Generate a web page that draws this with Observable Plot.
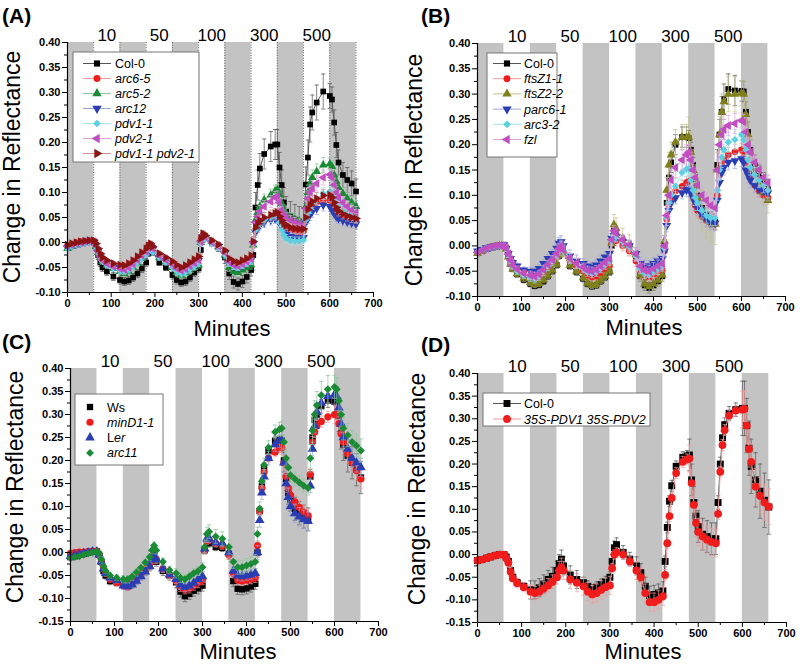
<!DOCTYPE html>
<html><head><meta charset="utf-8">
<script src="https://cdn.jsdelivr.net/npm/d3@7"></script>
<script src="https://cdn.jsdelivr.net/npm/@observablehq/plot@0.6"></script>
<style>
body{margin:0;background:#fff;}
#fig{position:relative;width:800px;height:666px;overflow:hidden;font-family:Arial,"Liberation Sans",sans-serif;}
#fig > svg{position:absolute;}
</style></head><body><div id="fig"></div>
<script>
// ---------- shared axes / design data ----------
const minutes = [0,10,20,30,40,50,60, 65,70,75,80,90,105, 120,130,140,150,160,170,180, 185,190,195,210,225,
  240,250,260,270,280,290,300, 305,310,315,330,345, 360,370,380,390,400,410,420, 425,430,435,440,450,465,475,
  480,485,490,495,500,510,520,530,540, 545,550,555,560,570,585, 600,605,610,615,620,630,640,650,660];
const segStart = [0,65,120,185,240,305,360,425,480,545,600];
const darkStart = [0,120,240,360,480,600];
const darkEnd = [60,180,300,420,540,660];
const bandEdges = [60,120,180,240,300,360,420,480,540,600,660];
const doseLabels = ["10","50","100","300","500"];
const doseMinutes = [90,210,330,450,570];
const xTicks = [0,100,200,300,400,500,600,700];
const xMinor = [50,150,250,350,450,550,650];
const yTicksAB = [-0.10,-0.05,0,0.05,0.10,0.15,0.20,0.25,0.30,0.35,0.40];
const yTicksCD = [-0.15,-0.10,-0.05,0,0.05,0.10,0.15,0.20,0.25,0.30,0.35,0.40];
const yMinorAB = [-0.075,-0.025,0.025,0.075,0.125,0.175,0.225,0.275,0.325,0.375];
const yMinorCD = [-0.125,-0.075,-0.025,0.025,0.075,0.125,0.175,0.225,0.275,0.325,0.375];

// ---------- Panel A ----------
const namesA = ["Col-0","arc6-5","arc5-2","arc12","pdv1-1","pdv2-1","pdv1-1 pdv2-1"];
const aCol0 = [-0.008,-0.006,-0.003,-0.001,0.001,0.003,0.002, -0.008,-0.025,-0.04,-0.05,-0.058,-0.068,
  -0.075,-0.078,-0.076,-0.07,-0.062,-0.052,-0.04, -0.022,-0.012,-0.02,-0.04,-0.05,
  -0.065,-0.075,-0.08,-0.078,-0.07,-0.06,-0.052, -0.015,0.008,0.01,0.0,-0.01,
  -0.03,-0.062,-0.079,-0.083,-0.078,-0.069,-0.055, -0.025,0.07,0.115,0.148,0.177,0.192,0.196,
  0.196,0.15,0.115,0.08,0.062,0.052,0.046,0.042,0.04, 0.116,0.17,0.236,0.26,0.28,0.302,
  0.293,0.286,0.24,0.195,0.16,0.135,0.125,0.118,0.102];
const aArc65 = [-0.006,-0.003,0.0,0.002,0.003,0.004,0.003, -0.004,-0.015,-0.025,-0.032,-0.038,-0.045,
  -0.048,-0.05,-0.046,-0.04,-0.032,-0.024,-0.016, -0.008,-0.004,-0.01,-0.025,-0.032,
  -0.04,-0.048,-0.052,-0.048,-0.042,-0.036,-0.03, 0.005,0.015,0.012,0.002,-0.006,
  -0.018,-0.035,-0.042,-0.044,-0.04,-0.036,-0.03, 0.0,0.025,0.032,0.038,0.045,0.05,0.055,
  0.057,0.05,0.042,0.035,0.03,0.026,0.024,0.022,0.022, 0.045,0.06,0.068,0.074,0.08,0.085,
  0.084,0.08,0.07,0.062,0.055,0.05,0.046,0.044,0.042];
const aArc52 = [-0.012,-0.008,-0.005,-0.002,0.0,0.002,0.001, -0.008,-0.02,-0.03,-0.038,-0.045,-0.052,
  -0.058,-0.062,-0.058,-0.05,-0.042,-0.032,-0.022, -0.012,-0.008,-0.015,-0.03,-0.038,
  -0.05,-0.06,-0.066,-0.062,-0.056,-0.05,-0.045, 0.0,0.015,0.012,0.002,-0.008,
  -0.025,-0.05,-0.058,-0.06,-0.055,-0.05,-0.045, -0.005,0.045,0.06,0.072,0.085,0.095,0.103,
  0.106,0.095,0.078,0.065,0.058,0.05,0.046,0.043,0.04, 0.072,0.1,0.118,0.13,0.142,0.155,
  0.157,0.152,0.135,0.122,0.11,0.098,0.088,0.08,0.072];
const aArc12 = [-0.01,-0.006,-0.003,-0.001,0.001,0.002,0.002, -0.006,-0.018,-0.028,-0.035,-0.042,-0.05,
  -0.054,-0.056,-0.052,-0.045,-0.037,-0.028,-0.02, -0.012,-0.008,-0.014,-0.028,-0.036,
  -0.045,-0.054,-0.058,-0.055,-0.048,-0.042,-0.036, 0.0,0.012,0.01,0.0,-0.008,
  -0.022,-0.04,-0.048,-0.05,-0.045,-0.04,-0.035, -0.002,0.02,0.03,0.035,0.04,0.045,0.048,
  0.05,0.042,0.032,0.022,0.016,0.012,0.01,0.01,0.01, 0.04,0.05,0.056,0.062,0.068,0.075,
  0.072,0.065,0.058,0.052,0.048,0.044,0.041,0.039,0.037];
const aPdv1 = [-0.012,-0.008,-0.005,-0.003,-0.001,0.0,0.0, -0.008,-0.02,-0.03,-0.038,-0.045,-0.052,
  -0.056,-0.058,-0.055,-0.048,-0.04,-0.032,-0.024, -0.016,-0.012,-0.02,-0.03,-0.04,
  -0.05,-0.058,-0.063,-0.06,-0.054,-0.048,-0.042, -0.002,0.01,0.008,-0.002,-0.01,
  -0.025,-0.042,-0.048,-0.05,-0.046,-0.042,-0.038, -0.005,0.025,0.033,0.04,0.045,0.05,0.055,
  0.056,0.04,0.025,0.015,0.008,0.004,0.003,0.003,0.005, 0.045,0.06,0.07,0.078,0.088,0.098,
  0.102,0.098,0.088,0.08,0.072,0.064,0.058,0.054,0.05];
const aPdv2 = [-0.008,-0.005,-0.002,0.0,0.002,0.003,0.002, -0.006,-0.018,-0.028,-0.035,-0.042,-0.048,
  -0.052,-0.054,-0.05,-0.043,-0.035,-0.026,-0.018, -0.01,-0.006,-0.012,-0.026,-0.035,
  -0.044,-0.052,-0.056,-0.053,-0.047,-0.041,-0.035, 0.002,0.014,0.011,0.001,-0.007,
  -0.02,-0.038,-0.045,-0.047,-0.043,-0.038,-0.033, 0.0,0.04,0.052,0.062,0.072,0.082,0.09,
  0.093,0.08,0.065,0.055,0.05,0.044,0.04,0.037,0.035, 0.068,0.088,0.1,0.108,0.118,0.13,
  0.136,0.13,0.115,0.1,0.09,0.08,0.072,0.065,0.06];
const aPdv12 = [-0.005,-0.002,0.0,0.002,0.003,0.004,0.004, -0.002,-0.012,-0.022,-0.03,-0.036,-0.042,
  -0.045,-0.046,-0.042,-0.036,-0.028,-0.02,-0.012, -0.006,-0.002,-0.008,-0.022,-0.03,
  -0.038,-0.045,-0.05,-0.046,-0.04,-0.034,-0.028, 0.008,0.018,0.014,0.004,-0.004,
  -0.016,-0.032,-0.038,-0.04,-0.036,-0.032,-0.026, 0.002,0.03,0.038,0.044,0.05,0.055,0.058,
  0.06,0.052,0.044,0.038,0.034,0.03,0.028,0.027,0.027, 0.05,0.066,0.075,0.082,0.088,0.094,
  0.095,0.09,0.08,0.07,0.063,0.057,0.053,0.05,0.048];
const errA = [
  [0.003,0.008,0.008,0.006,0.008,0.008,0.012,0.03,0.03,0.035,0.025],
  [0.003,0.005,0.006,0.005,0.006,0.006,0.006,0.01,0.008,0.012,0.01],
  [0.003,0.005,0.006,0.005,0.006,0.006,0.008,0.012,0.01,0.015,0.012],
  [0.003,0.005,0.006,0.005,0.006,0.006,0.006,0.01,0.008,0.012,0.01],
  [0.003,0.005,0.006,0.005,0.006,0.006,0.006,0.01,0.008,0.012,0.01],
  [0.003,0.005,0.006,0.005,0.006,0.006,0.006,0.012,0.01,0.015,0.012],
  [0.003,0.005,0.006,0.005,0.006,0.006,0.006,0.01,0.008,0.012,0.01]];

// ---------- Panel B ----------
const namesB = ["Col-0","ftsZ1-1","ftsZ2-2","parc6-1","arc3-2","fzl"];
const bCol0 = [-0.014,-0.01,-0.006,-0.003,-0.001,0.0,0.0, -0.005,-0.02,-0.035,-0.045,-0.056,-0.067,
  -0.075,-0.079,-0.077,-0.07,-0.06,-0.05,-0.038, -0.02,-0.008,-0.015,-0.04,-0.052,
  -0.065,-0.075,-0.08,-0.078,-0.07,-0.062,-0.052, 0.0,0.03,0.025,0.01,0.0,
  -0.02,-0.06,-0.078,-0.083,-0.078,-0.07,-0.06, 0.0,0.085,0.135,0.165,0.2,0.215,0.215,
  0.213,0.19,0.16,0.13,0.1,0.075,0.06,0.052,0.048, 0.16,0.22,0.265,0.29,0.31,0.307,
  0.306,0.305,0.265,0.225,0.19,0.16,0.14,0.125,0.112];
const bFtsZ1 = [-0.012,-0.009,-0.005,-0.002,0.0,0.001,0.001, -0.004,-0.016,-0.028,-0.036,-0.044,-0.05,
  -0.06,-0.063,-0.06,-0.052,-0.042,-0.032,-0.022, -0.012,-0.005,-0.012,-0.03,-0.04,
  -0.05,-0.058,-0.062,-0.06,-0.054,-0.046,-0.04, 0.005,0.012,0.01,0.0,-0.01,
  -0.03,-0.055,-0.062,-0.064,-0.058,-0.052,-0.048, -0.01,0.052,0.08,0.095,0.108,0.118,0.125,
  0.127,0.11,0.095,0.08,0.07,0.058,0.05,0.045,0.043, 0.1,0.14,0.16,0.17,0.18,0.186,
  0.19,0.185,0.165,0.15,0.135,0.12,0.108,0.1,0.095];
const bFtsZ2 = [-0.015,-0.011,-0.007,-0.004,-0.002,0.0,0.0, -0.006,-0.022,-0.036,-0.046,-0.055,-0.064,
  -0.072,-0.076,-0.074,-0.067,-0.058,-0.048,-0.036, -0.018,-0.005,-0.015,-0.038,-0.05,
  -0.063,-0.073,-0.078,-0.076,-0.068,-0.06,-0.05, 0.005,0.042,0.035,0.015,0.002,
  -0.018,-0.058,-0.075,-0.08,-0.075,-0.068,-0.058, 0.01,0.11,0.16,0.18,0.205,0.215,0.215,
  0.215,0.185,0.15,0.12,0.095,0.07,0.055,0.047,0.043, 0.15,0.22,0.265,0.285,0.3,0.3,
  0.302,0.3,0.26,0.22,0.185,0.15,0.125,0.105,0.09];
const bParc6 = [-0.01,-0.007,-0.004,-0.002,0.0,0.001,0.002, -0.005,-0.015,-0.025,-0.033,-0.04,-0.048,
  -0.05,-0.05,-0.045,-0.035,-0.025,-0.015,-0.005, 0.005,0.008,0.0,-0.02,-0.03,
  -0.035,-0.04,-0.042,-0.038,-0.03,-0.022,-0.015, 0.015,0.02,0.018,0.008,0.0,
  -0.015,-0.035,-0.04,-0.04,-0.035,-0.03,-0.025, -0.01,0.04,0.07,0.085,0.095,0.105,0.11,
  0.112,0.105,0.095,0.085,0.075,0.062,0.053,0.047,0.045, 0.09,0.125,0.145,0.155,0.165,0.168,
  0.172,0.165,0.15,0.14,0.13,0.12,0.112,0.108,0.105];
const bArc32 = [-0.012,-0.009,-0.005,-0.003,-0.001,0.0,0.001, -0.005,-0.017,-0.03,-0.04,-0.05,-0.058,
  -0.062,-0.065,-0.06,-0.05,-0.04,-0.03,-0.018, -0.008,-0.002,-0.01,-0.025,-0.035,
  -0.045,-0.052,-0.055,-0.052,-0.045,-0.038,-0.03, 0.01,0.02,0.018,0.008,-0.002,
  -0.02,-0.045,-0.055,-0.058,-0.052,-0.046,-0.04, -0.005,0.055,0.085,0.1,0.118,0.145,0.152,
  0.152,0.13,0.11,0.095,0.085,0.07,0.06,0.055,0.055, 0.11,0.15,0.175,0.19,0.205,0.21,
  0.22,0.21,0.19,0.17,0.155,0.14,0.13,0.12,0.11];
const bFzl = [-0.013,-0.009,-0.005,-0.002,0.0,0.001,0.001, -0.005,-0.016,-0.028,-0.038,-0.046,-0.054,
  -0.058,-0.06,-0.056,-0.047,-0.037,-0.027,-0.015, -0.005,0.0,-0.008,-0.024,-0.034,
  -0.042,-0.048,-0.05,-0.047,-0.04,-0.033,-0.026, 0.012,0.03,0.025,0.012,0.002,
  -0.016,-0.04,-0.048,-0.05,-0.045,-0.04,-0.035, 0.0,0.06,0.1,0.13,0.155,0.17,0.18,
  0.185,0.17,0.15,0.135,0.12,0.1,0.09,0.08,0.075, 0.15,0.2,0.22,0.23,0.238,0.242,
  0.248,0.245,0.225,0.2,0.185,0.165,0.15,0.135,0.125];
const errB = [
  [0.003,0.006,0.006,0.006,0.006,0.01,0.01,0.02,0.015,0.03,0.02],
  [0.003,0.006,0.008,0.01,0.008,0.01,0.01,0.012,0.012,0.015,0.012],
  [0.003,0.006,0.006,0.006,0.006,0.02,0.012,0.025,0.04,0.035,0.025],
  [0.003,0.006,0.008,0.012,0.01,0.01,0.012,0.012,0.015,0.015,0.015],
  [0.003,0.006,0.008,0.01,0.008,0.01,0.01,0.015,0.015,0.02,0.015],
  [0.003,0.006,0.008,0.01,0.008,0.01,0.012,0.02,0.015,0.02,0.015]];

// ---------- Panel C ----------
const namesC = ["Ws","minD1-1","Ler","arc11"];
const cWs = [-0.01,-0.008,-0.005,-0.003,0.0,0.002,0.002, -0.005,-0.02,-0.04,-0.05,-0.062,-0.065,
  -0.07,-0.072,-0.068,-0.06,-0.05,-0.04,-0.03, -0.015,-0.005,-0.02,-0.04,-0.05,
  -0.065,-0.085,-0.095,-0.09,-0.083,-0.078,-0.072, 0.005,0.022,0.02,0.012,0.01,
  -0.003,-0.062,-0.079,-0.08,-0.078,-0.074,-0.068, 0.0,0.09,0.145,0.185,0.22,0.243,0.245,
  0.243,0.2,0.16,0.13,0.115,0.095,0.085,0.078,0.072, 0.165,0.25,0.288,0.3,0.318,0.33,
  0.328,0.325,0.298,0.26,0.235,0.21,0.195,0.18,0.163];
const cMinD = [-0.002,0.0,0.001,0.001,0.002,0.003,0.003, -0.005,-0.02,-0.035,-0.045,-0.058,-0.065,
  -0.072,-0.075,-0.068,-0.058,-0.048,-0.036,-0.025, -0.01,0.0,-0.015,-0.035,-0.05,
  -0.062,-0.075,-0.08,-0.078,-0.072,-0.066,-0.06, 0.005,0.025,0.028,0.02,0.015,
  -0.005,-0.045,-0.06,-0.062,-0.06,-0.058,-0.055, 0.015,0.09,0.14,0.175,0.205,0.218,0.228,
  0.228,0.195,0.165,0.14,0.125,0.11,0.098,0.088,0.08, 0.17,0.24,0.262,0.275,0.285,0.295,
  0.3,0.3,0.28,0.258,0.24,0.215,0.195,0.178,0.16];
const cLer = [-0.008,-0.006,-0.004,-0.002,0.0,0.002,0.002, -0.005,-0.02,-0.035,-0.045,-0.055,-0.06,
  -0.072,-0.074,-0.07,-0.062,-0.052,-0.042,-0.03, -0.015,-0.008,-0.015,-0.035,-0.048,
  -0.058,-0.07,-0.075,-0.072,-0.066,-0.058,-0.052, 0.008,0.03,0.03,0.022,0.02,
  0.0,-0.04,-0.05,-0.052,-0.05,-0.048,-0.045, 0.0,0.07,0.13,0.165,0.205,0.235,0.243,
  0.243,0.195,0.15,0.12,0.1,0.085,0.078,0.072,0.068, 0.145,0.225,0.275,0.305,0.325,0.34,
  0.343,0.34,0.315,0.28,0.25,0.225,0.205,0.195,0.185];
const cArc11 = [-0.012,-0.01,-0.008,-0.005,-0.002,0.0,0.002, -0.002,-0.015,-0.03,-0.04,-0.05,-0.055,
  -0.058,-0.058,-0.052,-0.043,-0.033,-0.022,-0.01, 0.005,0.015,0.005,-0.02,-0.038,
  -0.045,-0.055,-0.058,-0.052,-0.045,-0.04,-0.032, 0.012,0.04,0.045,0.035,0.03,
  0.012,-0.02,-0.032,-0.032,-0.028,-0.025,-0.02, 0.04,0.095,0.155,0.19,0.228,0.262,0.268,
  0.27,0.24,0.205,0.185,0.168,0.16,0.152,0.145,0.14, 0.205,0.265,0.3,0.32,0.342,0.355,
  0.36,0.355,0.33,0.3,0.27,0.255,0.24,0.232,0.222];
const errC = [
  [0.003,0.008,0.01,0.01,0.012,0.008,0.012,0.01,0.025,0.015,0.035],
  [0.003,0.006,0.008,0.008,0.01,0.008,0.01,0.01,0.015,0.012,0.02],
  [0.003,0.006,0.008,0.008,0.01,0.008,0.01,0.015,0.02,0.015,0.02],
  [0.003,0.006,0.008,0.008,0.01,0.015,0.015,0.015,0.015,0.03,0.025]];

// ---------- Panel D ----------
const namesD = ["Col-0","35S-PDV1 35S-PDV2"];
const dCol0 = [-0.013,-0.011,-0.008,-0.005,-0.002,0.0,0.0, -0.005,-0.015,-0.035,-0.05,-0.062,-0.07,
  -0.078,-0.078,-0.073,-0.065,-0.055,-0.048,-0.035, -0.02,-0.01,-0.025,-0.045,-0.055,
  -0.062,-0.07,-0.078,-0.072,-0.066,-0.06,-0.05, -0.015,0.015,0.022,0.005,-0.01,
  -0.025,-0.04,-0.07,-0.09,-0.088,-0.085,-0.08, -0.015,0.06,0.118,0.152,0.195,0.215,0.218,
  0.22,0.165,0.115,0.085,0.062,0.045,0.04,0.035,0.035, 0.115,0.2,0.258,0.287,0.312,0.32,
  0.323,0.323,0.285,0.235,0.195,0.165,0.14,0.12,0.105];
const dPdv = [-0.013,-0.011,-0.008,-0.005,-0.002,0.0,0.0, -0.008,-0.018,-0.038,-0.052,-0.063,-0.072,
  -0.082,-0.085,-0.082,-0.075,-0.068,-0.06,-0.05, -0.035,-0.028,-0.035,-0.055,-0.062,
  -0.07,-0.082,-0.088,-0.085,-0.078,-0.072,-0.068, -0.03,0.0,0.005,0.0,-0.015,
  -0.035,-0.05,-0.085,-0.105,-0.105,-0.1,-0.092, -0.045,0.025,0.085,0.125,0.18,0.205,0.21,
  0.212,0.158,0.11,0.07,0.05,0.04,0.033,0.028,0.025, 0.09,0.183,0.242,0.275,0.307,0.318,
  0.32,0.322,0.285,0.233,0.205,0.15,0.13,0.115,0.106];
const errD = [
  [0.002,0.008,0.02,0.02,0.012,0.015,0.02,0.012,0.035,0.015,0.06],
  [0.002,0.01,0.015,0.02,0.02,0.01,0.02,0.012,0.03,0.012,0.04]];

// ---------- symbols ----------
function tri(dir) {
  return {draw(ctx, size) {
    const s3 = Math.sqrt(3), y = -Math.sqrt(size / (s3 * 3));
    let pts = [[0, y * 2], [-s3 * y, -y], [s3 * y, -y]];
    if (dir === "down") pts = pts.map(p => [p[0], -p[1]]);
    if (dir === "left") pts = pts.map(p => [p[1], p[0]]);
    if (dir === "right") pts = pts.map(p => [-p[1], p[0]]);
    ctx.moveTo(pts[0][0], pts[0][1]); ctx.lineTo(pts[1][0], pts[1][1]); ctx.lineTo(pts[2][0], pts[2][1]); ctx.closePath();
  }};
}
const SYM = {square: d3.symbolSquare, circle: d3.symbolCircle, up: tri("up"), down: tri("down"),
  left: tri("left"), right: tri("right"), diamond: d3.symbolDiamond2};
const capSym = {draw(ctx) { ctx.moveTo(-2.2, 0); ctx.lineTo(2.2, 0); }};

const K = {fill: "#000", light: "#555"}, R = {fill: "#f01c1c", light: "#f29a9a"},
  G = {fill: "#1b8a35", light: "#8fc79c"}, B = {fill: "#2b3db3", light: "#9ba3dd"},
  C = {fill: "#5ccfe0", light: "#a6e4ee"}, M = {fill: "#c04ec0", light: "#dda0dd"},
  DR = {fill: "#8a1414", light: "#c99292"}, O = {fill: "#7f7f1d", light: "#c2c28a"};

const seriesA = [[aCol0,K,"square"],[aArc65,R,"circle"],[aArc52,G,"up"],[aArc12,B,"down"],
  [aPdv1,C,"diamond"],[aPdv2,M,"left"],[aPdv12,DR,"right"]].map((s,i)=>({name:namesA[i],values:s[0],col:s[1],sym:s[2],err:errA[i]}));
const seriesB = [[bCol0,K,"square"],[bFtsZ1,R,"circle"],[bFtsZ2,O,"up"],[bParc6,B,"down"],
  [bArc32,C,"diamond"],[bFzl,M,"left"]].map((s,i)=>({name:namesB[i],values:s[0],col:s[1],sym:s[2],err:errB[i]}));
const seriesC = [[cWs,K,"square"],[cMinD,R,"circle"],[cLer,B,"up"],[cArc11,G,"diamond"]]
  .map((s,i)=>({name:namesC[i],values:s[0],col:s[1],sym:s[2],err:errC[i]}));
const seriesD = [[dCol0,K,"square"],[dPdv,R,"circle"]]
  .map((s,i)=>({name:namesD[i],values:s[0],col:s[1],sym:s[2],err:errD[i]}));

function segIndex(t) { let k = 0; segStart.forEach((s, i) => { if (t >= s) k = i; }); return k; }
const fmt = d => (Math.abs(d) < 1e-9 ? 0 : d).toFixed(2);

function panel(o) {
  const marks = [Plot.rect(darkStart.map((s, i) => ({s, e: darkEnd[i]})), {x1: "s", x2: "e", fill: "#c3c3c3"})];
  if (o.dotted) marks.push(Plot.ruleX(bandEdges, {stroke: "#555", strokeDasharray: "1,1.6", strokeWidth: 0.9}));
  for (const s of o.series) {
    const data = minutes.map((t, i) => ({t, v: s.values[i], e: s.err[segIndex(t)]}));
    marks.push(Plot.ruleX(data, {x: "t", y1: d => d.v - d.e, y2: d => d.v + d.e, stroke: s.col.light, strokeWidth: 0.7}));
    marks.push(Plot.dot(data, {x: "t", y: d => d.v + d.e, symbol: capSym, fill: "none", stroke: s.col.light, strokeWidth: 0.7, r: 2}));
    marks.push(Plot.dot(data, {x: "t", y: d => d.v - d.e, symbol: capSym, fill: "none", stroke: s.col.light, strokeWidth: 0.7, r: 2}));
    if (o.lines) marks.push(Plot.line(data, {x: "t", y: "v", stroke: s.col.light, strokeWidth: 1}));
    marks.push(Plot.dot(data, {x: "t", y: "v", symbol: SYM[s.sym], fill: s.col.fill, stroke: "none", r: o.r}));
  }
  marks.push(
    Plot.axisX({ticks: xMinor, tickSize: 3, text: null, label: null}),
    Plot.axisX({ticks: xTicks, tickSize: 5, tickPadding: 2, fontSize: 11, fontWeight: "bold", label: null}),
    Plot.axisY({ticks: o.yMinor, tickSize: 3, text: null, label: null}),
    Plot.axisY({ticks: o.yTicks, tickSize: 5, tickPadding: 2, fontSize: 11, fontWeight: "bold", tickFormat: fmt, label: null}),
    Plot.ruleX([0], {stroke: "#000", strokeWidth: 1.2}),
    Plot.ruleY([o.yTicks[0]], {stroke: "#000", strokeWidth: 1.2}),
    Plot.text(doseMinutes, {x: d => d, text: (d, i) => doseLabels[i], frameAnchor: "top", lineAnchor: "bottom", dy: -2, fontSize: 17})
  );
  const svg = Plot.plot({
    width: 400, height: o.h, marginLeft: o.ml, marginRight: o.mr, marginTop: o.mt, marginBottom: o.mb,
    x: {domain: [0, 700], axis: null}, y: {domain: [o.yTicks[0], 0.40], axis: null},
    style: {fontFamily: "Arial, 'Liberation Sans', sans-serif", color: "#000", background: "transparent", overflow: "visible"},
    marks
  });
  svg.style.left = o.left + "px"; svg.style.top = o.top + "px";
  return svg;
}

const fig = document.getElementById("fig");
fig.appendChild(panel({series: seriesA, yTicks: yTicksAB, yMinor: yMinorAB, left: 0, top: 0, h: 320, ml: 67, mr: 27, mt: 42, mb: 28, dotted: true, lines: true, r: 3.2}));
fig.appendChild(panel({series: seriesB, yTicks: yTicksAB, yMinor: yMinorAB, left: 400, top: 0, h: 320, ml: 77, mr: 15, mt: 43, mb: 24, dotted: false, lines: true, r: 3.3}));
fig.appendChild(panel({series: seriesC, yTicks: yTicksCD, yMinor: yMinorCD, left: 0, top: 320, h: 346, ml: 70, mr: 22, mt: 48, mb: 45, dotted: false, lines: false, r: 3.6}));
fig.appendChild(panel({series: seriesD, yTicks: yTicksCD, yMinor: yMinorCD, left: 400, top: 320, h: 346, ml: 77, mr: 14, mt: 53, mb: 44, dotted: false, lines: true, r: 3.9}));

// ---------- overlay text & legends ----------
const ov = d3.select(fig).append("svg").attr("width", 800).attr("height", 666)
  .style("left", "0px").style("top", "0px").attr("font-family", "Arial, 'Liberation Sans', sans-serif");
const letters = [["(A)", 2, 23], ["(B)", 421, 23], ["(C)", 2, 349], ["(D)", 421, 352]];
letters.forEach(([t, x, y]) => ov.append("text").attr("x", x).attr("y", y).attr("font-size", 21).attr("font-weight", "bold").text(t));
const xLabels = [[232, 336], [644, 335], [238, 659], [643, 659]];
xLabels.forEach(([x, y]) => ov.append("text").attr("x", x).attr("y", y).attr("text-anchor", "middle").attr("font-size", 22).text("Minutes"));
const yLabels = [[20, 167], [422, 170], [23, 487], [425, 489]];
yLabels.forEach(([x, y]) => ov.append("text").attr("transform", `translate(${x},${y}) rotate(-90)`).attr("text-anchor", "middle").attr("font-size", 23).text("Change in Reflectance"));

function legend(box, rows, opt) {
  ov.append("rect").attr("x", box[0]).attr("y", box[1]).attr("width", box[2] - box[0]).attr("height", box[3] - box[1])
    .attr("fill", "#fff").attr("stroke", "#777").attr("stroke-width", 1);
  rows.forEach((s, i) => {
    const y = opt.y0 + i * opt.dy;
    if (opt.line) ov.append("line").attr("x1", opt.mx - 14).attr("x2", opt.mx + 14).attr("y1", y).attr("y2", y).attr("stroke", s.col.light).attr("stroke-width", 1);
    ov.append("path").attr("transform", `translate(${opt.mx},${y})`).attr("fill", s.col.fill)
      .attr("d", d3.symbol(SYM[s.sym], opt.size)());
    const t = ov.append("text").attr("x", opt.tx).attr("y", y).attr("dy", "0.36em").attr("font-size", opt.fs);
    if (s.name === "Ler") { t.append("tspan").text("L"); t.append("tspan").attr("font-style", "italic").text("er"); }
    else t.attr("font-style", (s.name === "Col-0" || s.name === "Ws") ? "normal" : "italic").text(s.name);
  });
}
legend([73, 52, 199, 162], seriesA, {y0: 63.5, dy: 15, mx: 97, tx: 115, fs: 12.5, size: 38, line: true});
legend([487, 53, 557, 157], seriesB, {y0: 63.5, dy: 15.2, mx: 507, tx: 524, fs: 12.5, size: 38, line: true});
legend([75, 394, 163, 465], seriesC, {y0: 407, dy: 15.3, mx: 90, tx: 107, fs: 12.5, size: 40, line: false});
legend([483, 393, 650, 426], seriesD, {y0: 403.5, dy: 15.5, mx: 507, tx: 524, fs: 12.5, size: 48, line: true});
</script></body></html>
